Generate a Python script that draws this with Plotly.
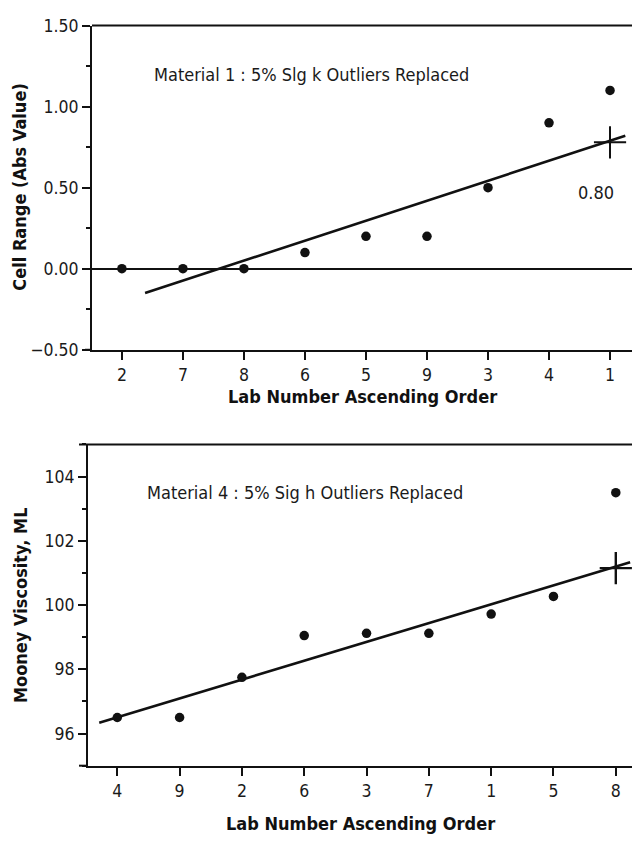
import plotly.graph_objects as go

# ---------------- data ----------------
labs_top = ["2", "7", "8", "6", "5", "9", "3", "4", "1"]
cell_range = [0.0, 0.0, 0.0, 0.10, 0.20, 0.20, 0.50, 0.90, 1.10]
fit_top_x = [0.38, 8.25]
fit_top_y = [-0.15, 0.82]
crit_top_x = [8]
crit_top_y = [0.78]
crit_top_label = "0.80"
note_top = "Material 1 : 5% Slg k Outliers Replaced"

labs_bot = ["4", "9", "2", "6", "3", "7", "1", "5", "8"]
mooney = [96.5, 96.5, 97.75, 99.05, 99.12, 99.12, 99.72, 100.27, 103.5]
fit_bot_x = [-0.29, 8.23]
fit_bot_y = [96.34, 101.33]
crit_bot_x = [8]
crit_bot_y = [101.15]
note_bot = "Material 4 : 5% Sig h Outliers Replaced"

ytitle_top = "Cell Range (Abs Value)"
ytitle_bot = "Mooney Viscosity, ML"
xtitle = "Lab Number Ascending Order"

# ---------------- figure ----------------
W, H = 632, 845
FONT = "DejaVu Sans Condensed, DejaVu Sans, sans-serif"
INK = "#111111"

fig = go.Figure()

idx = list(range(len(labs_top)))

# top panel
fig.add_trace(go.Scatter(x=fit_top_x, y=fit_top_y, mode="lines",
                         line=dict(color=INK, width=2.6), xaxis="x", yaxis="y",
                         showlegend=False, hoverinfo="skip"))
fig.add_trace(go.Scatter(x=idx, y=cell_range, mode="markers",
                         marker=dict(color=INK, size=9.5), xaxis="x", yaxis="y",
                         showlegend=False))
fig.add_trace(go.Scatter(x=crit_top_x, y=crit_top_y, mode="markers",
                         marker=dict(symbol="cross-thin", size=23, line=dict(color=INK, width=2)),
                         xaxis="x", yaxis="y", showlegend=False))

# bottom panel
fig.add_trace(go.Scatter(x=fit_bot_x, y=fit_bot_y, mode="lines",
                         line=dict(color=INK, width=2.6), xaxis="x2", yaxis="y2",
                         showlegend=False, hoverinfo="skip"))
fig.add_trace(go.Scatter(x=idx, y=mooney, mode="markers",
                         marker=dict(color=INK, size=9.5), xaxis="x2", yaxis="y2",
                         showlegend=False))
fig.add_trace(go.Scatter(x=crit_bot_x, y=crit_bot_y, mode="markers",
                         marker=dict(symbol="cross-thin", size=23, line=dict(color=INK, width=2.4)),
                         xaxis="x2", yaxis="y2", showlegend=False))

# domains (pixel -> paper)
top_l, top_t, top_b = 92, 16, 348
bot_l, bot_t, bot_b = 88, 445, 774

axis_common = dict(showline=True, linecolor=INK, linewidth=2, ticks="outside",
                   tickcolor=INK, tickwidth=2, showgrid=False,
                   tickfont=dict(family=FONT, size=17.5, color="#1a1a1a"))

fig.update_layout(
    width=W, height=H, margin=dict(l=0, r=0, t=0, b=0),
    paper_bgcolor="white", plot_bgcolor="white",
    xaxis=dict(domain=[top_l / W, 1], anchor="y", range=[-0.49, 8.36],
               tickvals=idx, ticktext=labs_top, ticklen=8, zeroline=False, **axis_common),
    yaxis=dict(domain=[1 - top_b / H, 1 - top_t / H], anchor="x", range=[-0.5, 1.5],
               tickvals=[-0.5, 0, 0.5, 1.0, 1.5],
               ticktext=["\u22120.50", "0.00", "0.50", "1.00", "1.50"],
               ticklen=8,
               minor=dict(dtick=0.25, tick0=0, ticks="outside", ticklen=4, tickwidth=2, tickcolor=INK),
               zeroline=True, zerolinecolor=INK, zerolinewidth=2, **axis_common),
    xaxis2=dict(domain=[bot_l / W, 1], anchor="y2", range=[-0.47, 8.26],
                tickvals=idx, ticktext=labs_bot, ticklen=8, zeroline=False, **axis_common),
    yaxis2=dict(domain=[1 - bot_b / H, 1 - bot_t / H], anchor="x2", range=[95, 105],
                tickvals=[96, 98, 100, 102, 104], ticklen=8, zeroline=False,
                minor=dict(dtick=1, tick0=95, ticks="outside", ticklen=4, tickwidth=2, tickcolor=INK),
                **axis_common),
)

# frame lines (top border + left extensions of x axis lines)
fig.add_shape(type="line", xref="x domain", yref="y domain", x0=0, x1=1, y0=1, y1=1,
              line=dict(color=INK, width=2))
fig.add_shape(type="line", xref="x domain", yref="y domain", x0=-7 / (W - top_l), x1=0, y0=0, y1=0,
              line=dict(color=INK, width=2))
fig.add_shape(type="line", xref="x2 domain", yref="y2 domain", x0=-9 / (W - bot_l), x1=1, y0=1, y1=1,
              line=dict(color=INK, width=2))
fig.add_shape(type="line", xref="x2 domain", yref="y2 domain", x0=-9 / (W - bot_l), x1=0, y0=0, y1=0,
              line=dict(color=INK, width=2))

tfont = dict(family=FONT, size=18, color="#1a1a1a")
bfont = dict(family=FONT, size=18, color=INK)

fig.add_annotation(x=0.49, y=1.20, xref="x", yref="y", text=note_top, showarrow=False,
                   xanchor="left", yanchor="middle", font=tfont)
fig.add_annotation(x=7.77, y=0.47, xref="x", yref="y", text=crit_top_label, showarrow=False,
                   xanchor="center", yanchor="middle", font=tfont)
fig.add_annotation(x=0.45, y=103.5, xref="x2", yref="y2", text=note_bot, showarrow=False,
                   xanchor="left", yanchor="middle", font=tfont)

# axis titles
fig.add_annotation(x=(top_l + W) / 2 / W, y=1 - 396 / H, xref="paper", yref="paper",
                   text="<b>" + xtitle + "</b>", showarrow=False, font=bfont,
                   xanchor="center", yanchor="middle")
fig.add_annotation(x=(bot_l + W) / 2 / W, y=1 - 833 / H, xref="paper", yref="paper",
                   text="<b>" + xtitle + "</b>", showarrow=False, font=bfont,
                   xanchor="center", yanchor="middle")
fig.add_annotation(x=20 / W, y=1 - (top_t + top_b) / 2 / H, xref="paper", yref="paper",
                   text="<b>" + ytitle_top + "</b>", showarrow=False, font=bfont, textangle=-90,
                   xanchor="center", yanchor="middle")
fig.add_annotation(x=20 / W, y=1 - (bot_t + bot_b) / 2 / H, xref="paper", yref="paper",
                   text="<b>" + ytitle_bot + "</b>", showarrow=False, font=bfont, textangle=-90,
                   xanchor="center", yanchor="middle")

fig.write_html("out.html")
